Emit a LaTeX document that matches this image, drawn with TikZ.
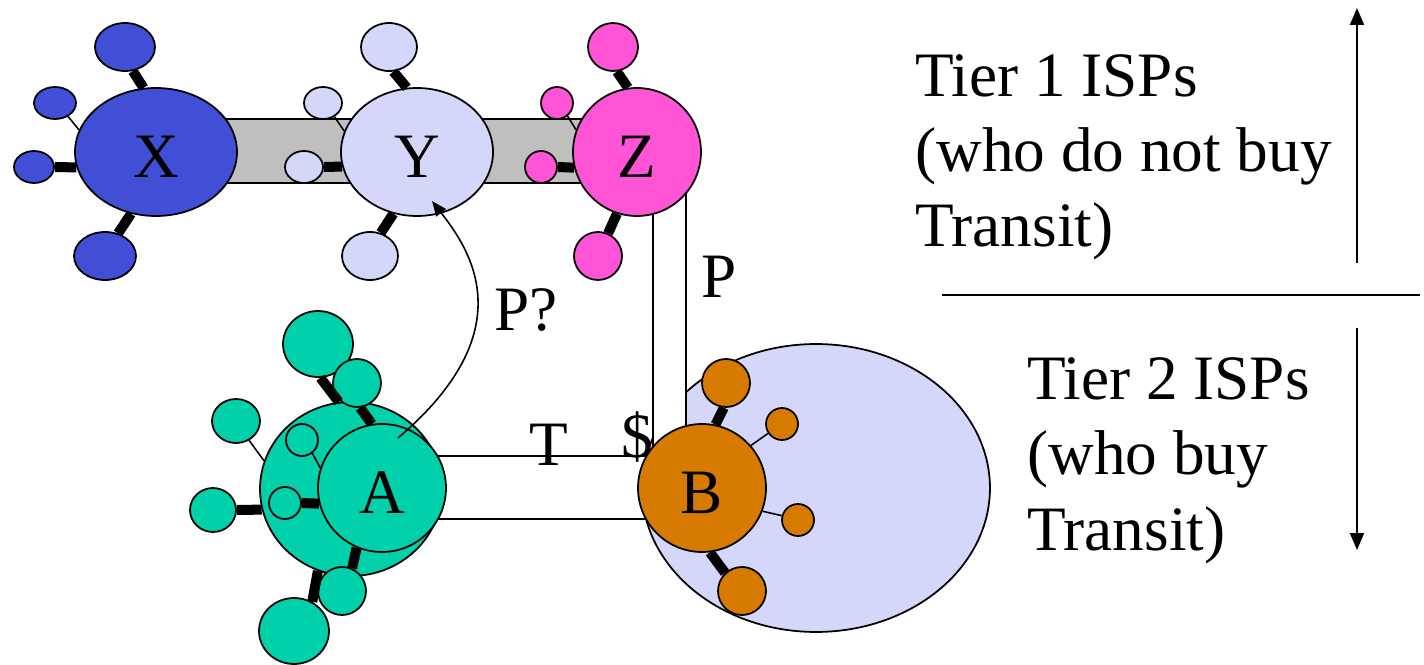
\documentclass[tikz,border=0pt]{standalone}
\usepackage{fontspec}
\setmainfont{Liberation Serif}
\usepackage{xcolor}
\usepackage{tikz}
\usetikzlibrary{shapes.geometric, arrows.meta, calc}
\definecolor{myblue}{rgb}{0.25, 0.31, 0.84}
\definecolor{mylilac}{rgb}{0.835, 0.843, 0.98}
\definecolor{mypink}{rgb}{1.00, 0.33, 0.835}
\definecolor{myteal}{rgb}{0.00, 0.82, 0.667}
\definecolor{myorange}{rgb}{0.84, 0.478, 0.00}
\definecolor{mygray}{rgb}{0.75, 0.75, 0.75}
\pgfdeclarelayer{backdrop}
\pgfdeclarelayer{background}
\pgfsetlayers{backdrop,background,main}
\tikzstyle{isp} = [ellipse, draw=black, line width=1pt, inner sep=0pt, font=\fontsize{36}{42.7}\selectfont]
\tikzset{blob/.style n args={3}{isp, fill=#1, minimum width=#2*0.4mm, minimum height=#3*0.4mm}}
\tikzstyle{hub} = [text height=29pt]
\tikzstyle{trunk} = [line width=5.7pt]
\tikzstyle{twig} = [line width=0.9pt]
\tikzstyle{pipe} = [draw=black, fill=white, line width=1.1pt]
\tikzstyle{tag} = [inner sep=0pt, font=\fontsize{36}{42.7}\selectfont]
\tikzstyle{arrow} = [line width=1.1pt, -{Triangle[length=0.34cm, width=0.28cm]}]

\begin{document}
\begin{tikzpicture}[x=0.02cm, y=-0.02cm]
\useasboundingbox (0,0) rectangle (1424,665);

\begin{pgfonlayer}{backdrop}
\node[blob={mylilac}{174}{144}] (Bcloud) at (816,488) {};
\end{pgfonlayer}

\node[blob={myblue}{81}{64}, hub] (X) at (156,152) {X};
\node[blob={myblue}{30}{24}] (Xt) at (125,47) {};
\node[blob={myblue}{21}{16}] (Xul) at (55,103) {};
\node[blob={myblue}{20}{16}] (Xl) at (34,167) {};
\node[blob={myblue}{31}{24}] (Xb) at (105,256) {};

\node[blob={mylilac}{76}{64}, hub] (Y) at (417,152) {Y};
\node[blob={mylilac}{28}{24}] (Yt) at (389,47) {};
\node[blob={mylilac}{19}{16}] (Yul) at (323,103) {};
\node[blob={mylilac}{19}{16}] (Yl) at (304,167) {};
\node[blob={mylilac}{28}{24}] (Yb) at (370,256) {};

\node[blob={mypink}{64}{64}, hub] (Z) at (637,152) {Z};
\node[blob={mypink}{25}{24}] (Zt) at (613,47) {};
\node[blob={mypink}{16}{16}] (Zul) at (557,103) {};
\node[blob={mypink}{16}{16}] (Zl) at (541,167) {};
\node[blob={mypink}{24}{24}] (Zb) at (598,256) {};

\node[blob={myteal}{91}{87}] (Abig) at (351,489) {};
\node[blob={myteal}{35}{33}] (Atop) at (318,344) {};
\node[blob={myteal}{24}{24}] (A2) at (357,383) {};
\node[blob={myteal}{24}{22}] (Aul) at (236,421) {};
\node[blob={myteal}{23}{22}] (Al) at (213,510) {};
\node[blob={myteal}{35}{33}] (Abot) at (294,631) {};
\node[blob={myteal}{16}{16}] (Ain) at (302,440) {};
\node[blob={myteal}{16}{16}] (Ail) at (285,503) {};
\node[blob={myteal}{64}{64}, hub] (A) at (382,488) {A};
\node[blob={myteal}{24}{24}] (Alr) at (342,591) {};

\node[blob={myorange}{64}{64}, hub] (B) at (702,488) {B};
\node[blob={myorange}{24}{24}] (Bt) at (726,383) {};
\node[blob={myorange}{16}{16}] (Bur) at (782,424) {};
\node[blob={myorange}{16}{16}] (Br) at (798,520) {};
\node[blob={myorange}{24}{24}] (Bb) at (742,591) {};

\begin{pgfonlayer}{background}
\draw[line width=1.1pt, fill=mygray] ($(X)+(0,-33)$) rectangle ($(Z)+(0,31)$);
\draw[pipe] ($(A)+(0,-32)$) rectangle ($(B)+(0,31)$);
\draw[pipe] ($(Z)+(16,0)$) rectangle ($(B)+(-16,0)$);
\end{pgfonlayer}

\draw[trunk] (Xt.-72) -- (X.101);
\draw[twig] (Xul.-46) -- (X.164);
\draw[trunk] (Xl.east) -- (X.191);
\draw[trunk] (Xb.60) -- (X.-112);

\draw[trunk] (Yt.-80) -- (Y.99);
\draw[twig] (Yul.-50) -- (Y.164);
\draw[trunk] (Yl.east) -- (Y.191);
\draw[trunk] (Yb.65) -- (Y.-111);

\draw[trunk] (Zt.-81) -- (Z.98);
\draw[twig] (Zul.-51) -- (Z.160);
\draw[trunk] (Zl.east) -- (Z.194);
\draw[trunk] (Zb.66) -- (Z.-108);

\draw[trunk] (Atop.-86) -- (Abig.98);
\draw[trunk] (A2.-83) -- (A.99);
\draw[twig] (Aul.-56) -- (Abig.162);
\draw[twig] (Ain.-52) -- (A.162);
\draw[trunk] (Al.east) -- (Abig.193);
\draw[trunk] (Ail.east) -- (A.194);
\draw[trunk] (Alr.66) -- (A.-113);
\draw[trunk] (Abot.58) -- (Abig.-112);

\draw[trunk] (Bt.-95) -- (B.78);
\draw[twig] (Bur.214) -- (B.41);
\draw[twig] (Br.165) -- (B.-21);
\draw[trunk] (Bb.133) -- (B.-83);

\draw[line width=0.9pt, -{Triangle[length=0.3cm, width=0.24cm]}]
($(A)+(16,-50)$) .. controls (525,330) and (470,250) .. ($(Y)+(15,49)$);

\node[tag] (Pq) at (526,310) {P?};
\node[tag] (Tlbl) at (549,445) {T};
\node[tag] (dollar) at (637,437) {\$};
\node[tag] (Plbl) at (719,277) {P};

\node[tag, anchor=base west, align=left] (tier1) at (915,247) {Tier 1 ISPs\\(who do not buy\\Transit)};
\node[tag, anchor=base west, align=left] (tier2) at (1027,550) {Tier 2 ISPs\\(who buy\\Transit)};

\coordinate (up0) at (1357,263);
\coordinate (up1) at (1357,8);
\coordinate (dn0) at (1357,328);
\coordinate (dn1) at (1357,550);
\coordinate (cut0) at (942,295);
\coordinate (cut1) at (1420,295);
\draw[arrow] (up0) -- (up1);
\draw[arrow] (dn0) -- (dn1);
\draw[line width=1.1pt] (cut0) -- (cut1);
\end{tikzpicture}
\end{document}
